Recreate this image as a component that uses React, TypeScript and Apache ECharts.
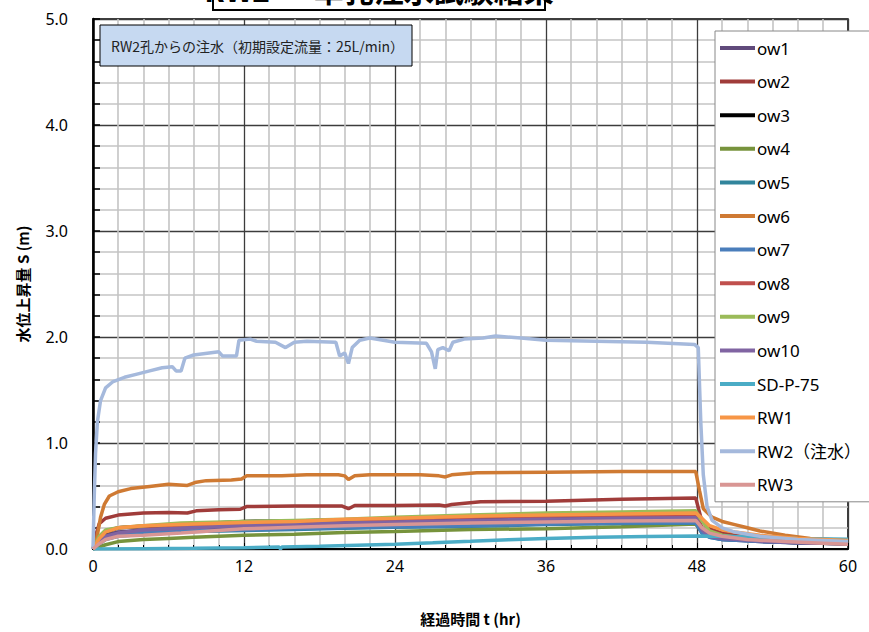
import React, { useEffect, useRef } from "react";
import * as echarts from "echarts";

type P = [number, number][];

const seriesNames = ["ow1", "ow2", "ow3", "ow4", "ow5", "ow6", "ow7", "ow8", "ow9", "ow10", "SD-P-75", "RW1", "RW2（注水）", "RW3"];
const seriesColors = ["#604a7b", "#a03c3a", "#000000", "#77933c", "#31859c", "#cf7a33", "#4a7ebb", "#c0504d", "#9bbb59", "#8064a2", "#4bacc6", "#f79646", "#a5b9dc", "#d99694"];

const xTicks = [0, 12, 24, 36, 48, 60];
const yTicks = [0, 1, 2, 3, 4, 5];

const ow1: P = [[0,0],[0.5,0.08],[1,0.13],[2,0.16],[4,0.18],[8,0.2],[12,0.21],[16,0.22],[20,0.235],[24,0.245],[30,0.26],[36,0.27],[42,0.275],[47.9,0.28],[48.4,0.17],[49,0.12],[50,0.09],[53,0.07],[56,0.06],[60,0.05]];
const ow2: P = [[0,0],[0.2,0.12],[0.5,0.24],[1,0.29],[2,0.32],[4,0.34],[6,0.345],[7.5,0.34],[8.2,0.36],[10,0.37],[11.7,0.375],[12.2,0.4],[16,0.405],[19.8,0.405],[20.3,0.38],[20.8,0.41],[24,0.41],[27.5,0.415],[28,0.405],[28.5,0.42],[30.8,0.445],[36,0.45],[42,0.47],[47.9,0.48],[48.3,0.3],[48.8,0.2],[50,0.15],[52,0.11],[55,0.08],[60,0.06]];
const ow3: P = [[0,0],[0.5,0.1],[1,0.16],[2,0.2],[4,0.215],[8,0.235],[12,0.26],[16,0.265],[20,0.275],[24,0.28],[30,0.295],[36,0.3],[42,0.31],[47.9,0.315],[48.4,0.2],[49,0.13],[50,0.1],[53,0.075],[56,0.06],[60,0.05]];
const ow4: P = [[0,0],[0.5,0.02],[1,0.04],[2,0.07],[3,0.08],[4,0.09],[6,0.1],[8,0.11],[12,0.13],[16,0.14],[20,0.155],[24,0.165],[30,0.185],[36,0.19],[42,0.21],[47.9,0.235],[48.4,0.16],[49,0.12],[50,0.1],[53,0.08],[56,0.07],[60,0.06]];
const ow5: P = [[0,0],[0.5,0.05],[1,0.09],[2,0.12],[4,0.14],[8,0.165],[12,0.175],[16,0.185],[20,0.195],[24,0.205],[30,0.215],[36,0.23],[42,0.24],[47.9,0.245],[48.4,0.15],[49,0.11],[50,0.09],[53,0.075],[56,0.065],[60,0.06]];
const ow6: P = [[0,0],[0.3,0.1],[0.6,0.3],[0.9,0.42],[1.3,0.5],[2,0.54],[3,0.57],[4.5,0.59],[6,0.61],[7.5,0.6],[8.2,0.63],[9,0.645],[11,0.65],[11.8,0.66],[12.2,0.69],[15,0.69],[17,0.7],[19.5,0.7],[20,0.69],[20.3,0.655],[20.8,0.69],[22,0.7],[26,0.7],[27.5,0.69],[28,0.68],[28.5,0.7],[30.5,0.72],[36,0.725],[42,0.73],[47.9,0.73],[48.2,0.55],[48.5,0.38],[49.2,0.3],[50,0.26],[51,0.23],[52,0.2],[53,0.17],[55,0.13],[57,0.1],[60,0.08]];
const ow7: P = [[0,0],[0.5,0.06],[1,0.1],[2,0.13],[4,0.15],[8,0.17],[12,0.18],[16,0.19],[20,0.2],[24,0.21],[30,0.22],[36,0.235],[42,0.245],[47.9,0.25],[48.4,0.15],[49,0.11],[50,0.09],[53,0.07],[56,0.06],[60,0.05]];
const ow8: P = [[0,0],[0.5,0.11],[1,0.17],[2,0.2],[4,0.215],[8,0.23],[12,0.24],[16,0.255],[20,0.27],[24,0.28],[30,0.3],[36,0.31],[42,0.315],[47.9,0.32],[48.4,0.2],[49,0.14],[50,0.11],[53,0.08],[56,0.065],[60,0.05]];
const ow9: P = [[0,0],[0.5,0.12],[1,0.18],[2,0.2],[4,0.22],[7,0.245],[12,0.26],[16,0.27],[20,0.28],[24,0.3],[30,0.32],[36,0.34],[42,0.35],[47.9,0.36],[48.3,0.28],[49,0.17],[50,0.13],[52,0.1],[55,0.08],[60,0.06]];
const ow10: P = [[0,0],[0.3,0.06],[1,0.12],[2,0.15],[4,0.18],[8,0.2],[12,0.22],[16,0.23],[20,0.245],[24,0.255],[30,0.27],[36,0.28],[42,0.29],[47.9,0.295],[48.4,0.18],[49,0.12],[50,0.1],[53,0.075],[56,0.06],[60,0.05]];
const sdp75: P = [[0,0],[4,0.003],[8,0.006],[12,0.012],[14.8,0.018],[14.9,0],[15,0.018],[18,0.025],[21,0.035],[24,0.045],[27,0.058],[30,0.072],[33,0.088],[36,0.1],[40,0.11],[44,0.117],[48,0.122],[50,0.12],[53,0.11],[56,0.1],[60,0.092]];
const rw1: P = [[0,0],[0.5,0.1],[1,0.16],[2,0.2],[4,0.22],[8,0.235],[12,0.25],[16,0.26],[20,0.28],[24,0.29],[30,0.31],[36,0.32],[42,0.33],[47.9,0.34],[48.3,0.3],[49,0.22],[50,0.18],[51,0.16],[53,0.13],[56,0.1],[60,0.08]];
const rw2: P = [[0,0],[0.1,0.5],[0.2,0.9],[0.35,1.2],[0.6,1.4],[1,1.52],[1.6,1.58],[2.5,1.62],[3.5,1.65],[4.5,1.68],[5.5,1.71],[6.3,1.72],[6.6,1.68],[7,1.68],[7.3,1.8],[8,1.83],[10,1.86],[10.3,1.82],[11.4,1.82],[11.6,1.97],[12.5,1.98],[13,1.96],[14.5,1.95],[15.3,1.9],[16,1.95],[17,1.96],[19.3,1.95],[19.6,1.82],[20,1.85],[20.3,1.75],[20.6,1.9],[21.2,1.97],[22,1.99],[24,1.95],[26.5,1.94],[26.9,1.86],[27.2,1.7],[27.4,1.88],[27.8,1.9],[28.3,1.87],[28.6,1.95],[29.5,1.98],[31,1.99],[32,2.01],[34,1.99],[36,1.97],[40,1.96],[44,1.95],[47.8,1.93],[48.1,1.9],[48.3,1.2],[48.5,0.7],[48.8,0.4],[49.2,0.27],[50,0.2],[51,0.16],[53,0.12],[56,0.09],[60,0.07]];
const rw3: P = [[0,0],[0.5,0.05],[1,0.09],[2,0.12],[4,0.13],[7,0.15],[12,0.19],[16,0.205],[20,0.22],[24,0.23],[30,0.245],[36,0.255],[42,0.265],[47.9,0.27],[48.4,0.2],[49,0.15],[50,0.12],[52,0.09],[55,0.07],[58,0.055],[60,0.045]];

const seriesData: P[] = [ow1, ow2, ow3, ow4, ow5, ow6, ow7, ow8, ow9, ow10, sdp75, rw1, rw2, rw3];

const FONT = '"Noto Sans", "Noto Sans CJK JP", sans-serif';
const CJK = '"Noto Sans CJK JP", "Noto Sans", sans-serif';

export default function App() {
  const ref = useRef<HTMLDivElement>(null);
  useEffect(() => {
    if (!ref.current) return;
    const chart = echarts.init(ref.current, undefined, { renderer: "svg" });
    const option: any = {
      animation: false,
      backgroundColor: "#ffffff",
      grid: { left: 93, top: 19, right: 21, bottom: 83, show: true, borderColor: "#000", borderWidth: 1.5, backgroundColor: "transparent" },
      xAxis: {
        type: "value", min: xTicks[0], max: xTicks[xTicks.length - 1], interval: 12,
        name: "経過時間 t (hr)", nameLocation: "middle", nameGap: 62,
        nameTextStyle: { fontFamily: CJK, fontSize: 15, fontWeight: "bold", color: "#000" },
        axisLine: { show: true, onZero: false, lineStyle: { color: "#000", width: 2 } },
        axisTick: { show: true, inside: true, length: 6, lineStyle: { color: "#000" } },
        minorTick: { show: true, splitNumber: 6, length: 4, lineStyle: { color: "#000" } },
        splitLine: { show: true, lineStyle: { color: "#3c3c3c", width: 1.3 } },
        minorSplitLine: { show: true, lineStyle: { color: "#c4c4c4", width: 1.6 } },
        axisLabel: { fontFamily: FONT, fontSize: 16, color: "#000", margin: 9 },
      },
      yAxis: {
        type: "value", min: yTicks[0], max: yTicks[yTicks.length - 1], interval: 1,
        name: "水位上昇量 S (m)", nameLocation: "middle", nameGap: 63, nameRotate: 90,
        nameTextStyle: { fontFamily: CJK, fontSize: 15, fontWeight: "bold", color: "#000" },
        axisLine: { show: true, onZero: false, lineStyle: { color: "#000", width: 2.5 } },
        axisTick: { show: true, inside: true, length: 7, lineStyle: { color: "#000", width: 1.5 } },
        minorTick: { show: true, splitNumber: 5, length: 7, lineStyle: { color: "#000", width: 1.5 } },
        splitLine: { show: true, lineStyle: { color: "#3c3c3c", width: 1.3 } },
        minorSplitLine: { show: true, lineStyle: { color: "#c4c4c4", width: 1.6 } },
        axisLabel: { fontFamily: FONT, fontSize: 16, color: "#000", margin: 25, formatter: (v: number) => v.toFixed(1) },
      },
      legend: {
        orient: "vertical", left: 715, top: 31, padding: [7, 40, 7, 5],
        backgroundColor: "#fff", borderColor: "#888", borderWidth: 1,
        itemWidth: 35, itemHeight: 4, itemGap: 13.6, icon: "rect",
        textStyle: { fontFamily: FONT, fontSize: 17, color: "#000", lineHeight: 20, padding: [0, 0, 0, -3] },
        data: seriesNames,
      },
      graphic: [
        { type: "rect", shape: { x: 213, y: -40, width: 332, height: 50 }, style: { fill: "#fff", stroke: "#000", lineWidth: 2 }, z: 100 },
        { type: "text", x: 379, y: 4, style: { text: "RW2 ─ 単孔注水試験結果", font: `bold 30px ${CJK}`, fill: "#000", textAlign: "center", textVerticalAlign: "bottom" }, z: 101 },
        { type: "rect", shape: { x: 100, y: 25, width: 312, height: 41 }, style: { fill: "#c6d9f1", stroke: "#000", lineWidth: 1 }, z: 100 },
        { type: "text", x: 111, y: 46, style: { text: "RW2孔からの注水（初期設定流量：25L/min）", font: `14px ${CJK}`, fill: "#222", textAlign: "left", textVerticalAlign: "middle" }, z: 101 },
      ],
      series: seriesNames.map((n, i) => ({
        name: n, type: "line", data: seriesData[i], showSymbol: false, symbol: "none",
        lineStyle: { color: seriesColors[i], width: 3.5 }, itemStyle: { color: seriesColors[i] },
        emphasis: { disabled: true },
      })),
    };
    chart.setOption(option);
    return () => chart.dispose();
  }, []);
  return <div ref={ref} style={{ position: "fixed", left: 0, top: 0, width: 869, height: 632 }} />;
}
